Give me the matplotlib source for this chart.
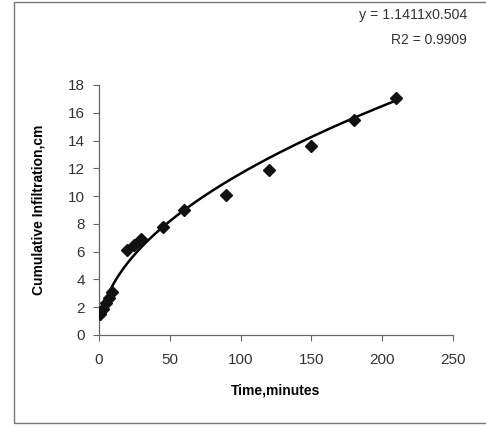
import numpy as np
import matplotlib
matplotlib.use("Agg")
import matplotlib.pyplot as plt
from matplotlib.patches import Rectangle

plt.rcParams["font.family"] = ["Liberation Sans", "DejaVu Sans"]

# measured points (time in minutes, cumulative infiltration in cm)
time_min = [1, 3, 5, 7, 9, 20, 25, 30, 45, 60, 90, 120, 150, 180, 210]
infil_cm = [1.5, 1.9, 2.3, 2.7, 3.1, 6.1, 6.5, 6.9, 7.8, 9.0, 10.1, 11.9, 13.6, 15.5, 17.1]

# power trendline shown on the chart
coef_a = 1.1411
coef_b = 0.504
r2 = 0.9909

x_ticks = [0, 50, 100, 150, 200, 250]
y_ticks = [0, 2, 4, 6, 8, 10, 12, 14, 16, 18]

W, H = 486, 426
fig = plt.figure(figsize=(W / 100, H / 100), dpi=100)
fig.patch.set_facecolor("white")

# chart-area frame (right edge falls outside the picture)
fig.add_artist(Rectangle((14 / W, 3 / H), 1.2, 1 - 5 / H, transform=fig.transFigure,
                         fill=False, edgecolor="#777777", linewidth=1.0, clip_on=False))

ax = fig.add_axes([99 / W, (H - 335) / H, 354 / W, 250 / H])

xs = np.linspace(1, max(time_min) + 2, 300)
ax.plot(xs, coef_a * xs ** coef_b, color="black", linewidth=1.8, zorder=2)
ax.plot(time_min, infil_cm, linestyle="none", marker="D", markersize=6.5,
        color="#111111", zorder=3)

ax.set_xlim(0, 250)
ax.set_ylim(0, 18)
ax.set_xticks(x_ticks)
ax.set_yticks(y_ticks)
for s in ["top", "right"]:
    ax.spines[s].set_visible(False)
for s in ["left", "bottom"]:
    ax.spines[s].set_color("#666666")
    ax.spines[s].set_linewidth(0.9)
ax.tick_params(direction="out", length=4, width=0.8, color="#666666",
               labelsize=11, labelcolor="#333333")
ax.tick_params(axis="x", pad=9)
ax.tick_params(axis="y", pad=6)

ax.set_xlabel("Time,minutes", fontsize=10, fontweight="bold", labelpad=12)
ax.set_ylabel("Cumulative Infiltration,cm", fontsize=10, fontweight="bold", labelpad=16)

fig.text(467 / W, 1 - 15 / H, f"y = {coef_a}x{coef_b}", ha="right", va="center",
         fontsize=10.2, color="#333333")
fig.text(467 / W, 1 - 40 / H, f"R2 = {r2}", ha="right", va="center",
         fontsize=10, color="#333333")

fig.savefig("out.png", dpi=100)
